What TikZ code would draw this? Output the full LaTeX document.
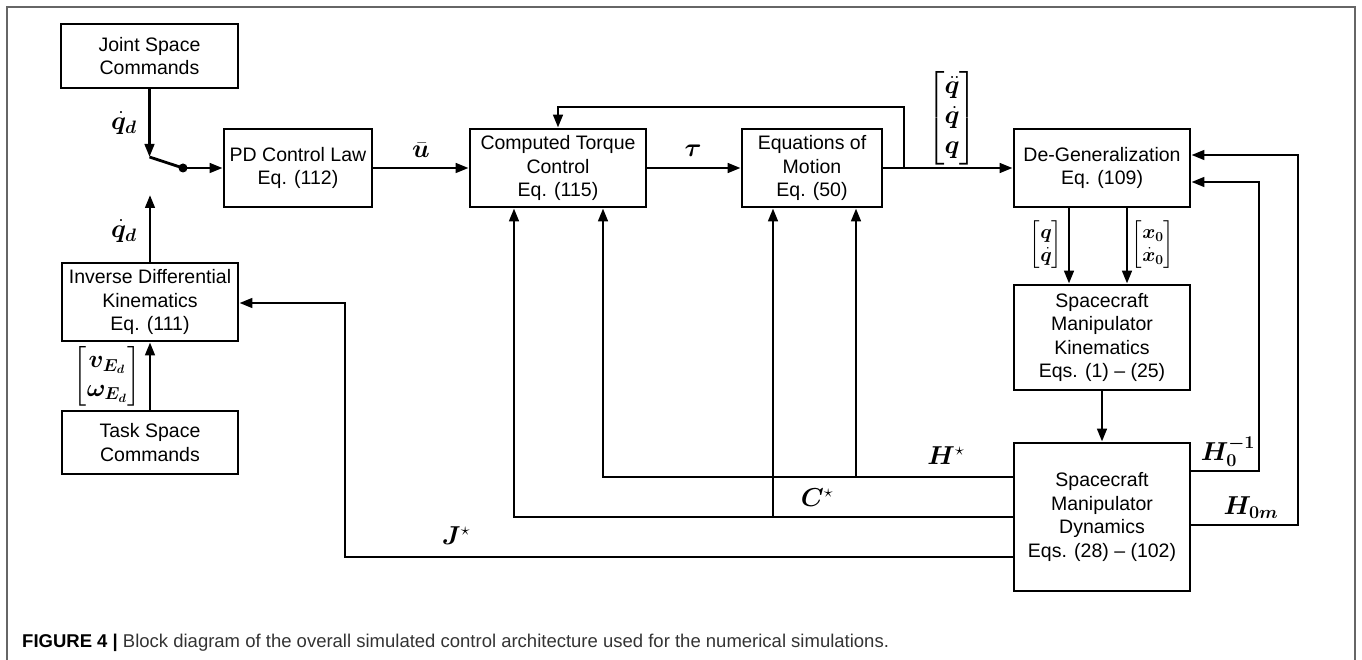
\documentclass[tikz,border=0pt]{standalone}
\usepackage{amsmath,bm,graphicx}
\usepackage{fontspec}
\setmainfont{Liberation Sans}
\usetikzlibrary{arrows.meta}
\newcommand{\mlab}[2][1.25]{\scalebox{#1}{$#2$}}
\begin{document}
\begin{tikzpicture}[x=1pt,y=-1pt,
  blk/.style={draw, line width=2.7pt, inner sep=0pt, align=center,
    font=\fontsize{19.5}{23.5}\selectfont},
  arr/.style={line width=2.8pt, -{Triangle[length=13pt,width=9.5pt]}},
  ln/.style={line width=2.8pt},
  lbl/.style={inner sep=0pt, font=\fontsize{20}{24}\selectfont},
  frame/.style={draw=black!60, line width=1.2pt}]
\useasboundingbox (0,0) rectangle (1362,660);
\draw[frame] (7,660) -- (7,7) -- (1355,7) -- (1355,660);

% blocks
\node[blk, minimum width=177pt, minimum height=64pt] (jsc) at (149.5,56) {Joint Space\\Commands};
\node[blk, minimum width=148pt, minimum height=78pt] (pd) at (298,168) {PD Control Law\\Eq. (112)};
\node[blk, minimum width=176pt, minimum height=78pt] (idk) at (150,302) {Inverse Differential\\Kinematics\\Eq. (111)};
\node[blk, minimum width=176pt, minimum height=63pt] (tsc) at (150,442.5) {Task Space\\Commands};
\node[blk, minimum width=176pt, minimum height=78pt] (ctc) at (558,168) {Computed Torque\\Control\\Eq. (115)};
\node[blk, minimum width=140pt, minimum height=78pt] (eom) at (812,168) {Equations of\\Motion\\Eq. (50)};
\node[blk, minimum width=176pt, minimum height=78pt] (dg) at (1102,168) {De-Generalization\\Eq. (109)};
\node[blk, minimum width=176pt, minimum height=105pt] (smk) at (1102,337.5) {Spacecraft\\Manipulator\\Kinematics\\Eqs. (1) -- (25)};
\node[blk, minimum width=176pt, minimum height=148pt] (smd) at (1102,517) {Spacecraft\\Manipulator\\Dynamics\\Eqs. (28) -- (102)};

% switch
\coordinate (sw1) at (149.5,157);
\coordinate (sw2) at (150,195);
\coordinate (swdot) at (183,168);
\draw[arr] (jsc.south) -- (sw1);
\draw[ln] (sw1) -- (swdot);
\fill (swdot) circle (4.5pt);
\draw[arr] (swdot) -- (pd.west);
\draw[arr] (idk.north) -- (sw2);
\draw[arr] (tsc.north) -- (idk.south);

% forward path
\draw[arr] (pd.east) -- (ctc.west);
\draw[arr] (ctc.east) -- (eom.west);
\draw[arr] (eom.east) -- (dg.west);
\coordinate (fb) at (904,168);
\draw[arr] (fb) -- (904,107) -| (ctc.north);

% de-generalization to kinematics
\draw[arr] ([xshift=-33pt]dg.south) -- ([xshift=-33pt]smk.north);
\draw[arr] ([xshift=25pt]dg.south) -- ([xshift=25pt]smk.north);
\draw[arr] (smk.south) -- (smd.north);

% dynamics outputs (left)
\coordinate (hj) at (856,477);
\coordinate (cj) at (773,517);
\coordinate (jt) at (345,303);
\draw[arr] (smd.west |- 0,477) -| (ctc.south -| 603,0);
\draw[arr] (hj) -- (eom.south -| hj);
\draw[arr] (smd.west |- 0,517) -| (ctc.south -| 514,0);
\draw[arr] (cj) -- (eom.south -| cj);
\draw[arr] (smd.west |- 0,557) -| (jt) -- (idk.east |- jt);

% dynamics outputs (right)
\draw[arr] (smd.east |- 0,471) -- (1259,471) -- (1259,182) -- (dg.east |- 0,182);
\draw[arr] (smd.east |- 0,525) -- (1298,525) -- (1298,155) -- (dg.east |- 0,155);

% labels
\node[lbl] (lqd1) at (124,123) {\mlab{\dot{\bm q}_{\bm d}}};
\node[lbl] (lqd2) at (124,231) {\mlab{\dot{\bm q}_{\bm d}}};
\node[lbl] (lve) at (107,376) {\mlab[1.2]{\begin{bmatrix}\bm v_{\bm E_{\bm d}}\\ \bm\omega_{\bm E_{\bm d}}\end{bmatrix}}};
\node[lbl] (lu) at (421,150) {\mlab{\bar{\bm u}}};
\node[lbl] (ltau) at (693,151) {\mlab{\bm\tau}};
\node[lbl] (lqq) at (952,118) {\mlab{\begin{bmatrix}\ddot{\bm q}\\ \dot{\bm q}\\ \bm q\end{bmatrix}}};
\node[lbl, font=\fontsize{17}{20}\selectfont] (lq2) at (1046,245) {\mlab[1.15]{\begin{bmatrix}\bm q\\ \dot{\bm q}\end{bmatrix}}};
\node[lbl, font=\fontsize{17}{20}\selectfont] (lx0) at (1153,245) {\mlab[1.15]{\begin{bmatrix}\bm x_{\bm 0}\\ \dot{\bm x}_{\bm 0}\end{bmatrix}}};
\node[lbl] (lH) at (946,456) {\mlab{\bm H^{\star}}};
\node[lbl] (lC) at (817,498) {\mlab{\bm C^{\star}}};
\node[lbl] (lJ) at (456,536) {\mlab{\bm J^{\star}}};
\node[lbl] (lH0i) at (1228,452) {\mlab{\bm H_{\bm 0}^{\bm{-1}}}};
\node[lbl] (lH0m) at (1251,508) {\mlab{\bm H_{\bm{0m}}}};

% caption
\node[anchor=base west, inner sep=0pt, font=\fontsize{18.5}{22}\selectfont, text=black!80] (cap) at (22,647)
  {\textbf{\textcolor{black}{FIGURE 4 |}} Block diagram of the overall simulated control architecture used for the numerical simulations.};
\end{tikzpicture}
\end{document}
